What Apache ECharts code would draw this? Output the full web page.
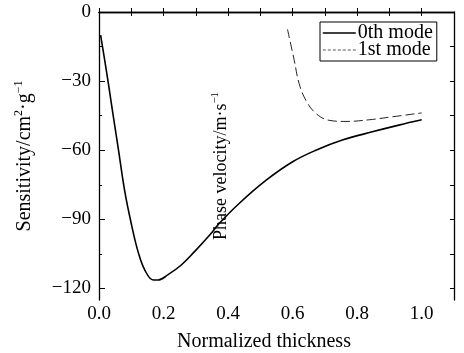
<!DOCTYPE html>
<html>
<head>
<meta charset="utf-8">
<script src="https://cdn.jsdelivr.net/npm/echarts@6/dist/echarts.min.js"></script>
<style>
  html, body { margin: 0; padding: 0; background: #fff; }
  #chart { width: 464px; height: 353px; }
</style>
</head>
<body>
<div id="chart"></div>
<script>
// values
const mode0X = [0.005, 0.016, 0.029, 0.044, 0.060, 0.080, 0.101, 0.121, 0.142, 0.168, 0.183, 0.214, 0.255, 0.296, 0.343, 0.373, 0.435, 0.518, 0.600, 0.672, 0.754, 0.847, 0.929, 1.000];
const mode0Y = [-10, -19.5, -31, -45, -59.5, -78, -92.5, -104, -112, -116.3, -116.3, -114, -109.8, -104, -96.8, -91.7, -83, -73, -65, -60, -55.6, -52, -49.1, -46.8];
const mode1X = [0.584, 0.605, 0.620, 0.641, 0.672, 0.713, 0.765, 0.836, 0.908, 1.000];
const mode1Y = [-7.5, -21, -31, -38.3, -44, -47, -47.5, -46.8, -45.5, -43.8];

const xLabels = [0, 0.2, 0.4, 0.6, 0.8, 1.0];
const xTicks = [0, 0.1, 0.2, 0.3, 0.4, 0.5, 0.6, 0.7, 0.8, 0.9, 1.0];
const yLabels = [0, -30, -60, -90, -120];
const yMinorTicks = [-15, -45, -75, -105];
const yRightTicks = [-15, -30, -45, -60, -75, -90, -105, -120];

const font = "'Liberation Serif', 'Times New Roman', serif";
const pairs = (xs, ys) => xs.map((x, i) => [x, ys[i]]);

const chart = echarts.init(document.getElementById('chart'));
chart.setOption({
    animation: false,
    backgroundColor: '#fff',
    textStyle: {fontFamily: font, color: '#000'},
    grid: {left: 99, right: 10, top: 12, bottom: 53, outerBoundsMode: 'none', containLabel: false},
    legend: {
        orient: 'vertical',
        left: 320,
        top: 22,
        width: 112,
        padding: [1, 4, 1, 2],
        itemGap: -3,
        itemWidth: 33,
        itemHeight: 14,
        borderColor: '#000',
        borderWidth: 1,
        borderRadius: 0,
        backgroundColor: '#fff',
        itemStyle: {color: 'transparent', borderWidth: 0, opacity: 0},
        textStyle: {fontFamily: font, fontSize: 20, color: '#000', padding: [0, 0, 0, -3]},
        data: [
            {name: '0th mode', lineStyle: {type: 'solid', width: 1.6, color: '#000'}},
            {name: '1st mode', lineStyle: {type: [3, 2], width: 1, color: '#555'}}
        ]
    },
    xAxis: [
        {
            type: 'value',
            min: 0,
            max: 1.1,
            name: 'Normalized thickness',
            nameLocation: 'middle',
            nameGap: 32,
            nameTextStyle: {fontFamily: font, fontSize: 20, color: '#000', padding: [0, 25, 0, 0]},
            splitLine: {show: false},
            axisLine: {lineStyle: {color: '#000', width: 1.3}},
            axisTick: {inside: true, length: 4, customValues: xTicks, lineStyle: {color: '#000'}},
            axisLabel: {
                customValues: xLabels,
                fontFamily: font, fontSize: 19, color: '#000', margin: 5,
                formatter: v => v.toFixed(1)
            }
        },
        {
            type: 'value',
            position: 'top',
            min: 0,
            max: 1.1,
            splitLine: {show: false},
            axisLine: {lineStyle: {color: '#000', width: 1.3}},
            axisTick: {inside: true, length: 4, customValues: xTicks, lineStyle: {color: '#000'}},
            axisLabel: {show: false}
        }
    ],
    yAxis: [
        {
            type: 'value',
            min: -125,
            max: 0,
            name: 'Sensitivity/cm{sup|2}·g{sup|−1}',
            nameLocation: 'middle',
            nameGap: 62,
            nameTextStyle: {
                fontFamily: font, fontSize: 20, color: '#000',
                rich: {sup: {fontFamily: font, fontSize: 12, color: '#000', padding: [0, 0, 12, 0]}}
            },
            splitLine: {show: false},
            axisLine: {lineStyle: {color: '#000', width: 1.3}},
            axisTick: {inside: true, length: 6, customValues: yLabels, lineStyle: {color: '#000'}},
            axisLabel: {
                customValues: yLabels,
                fontFamily: font, fontSize: 19, color: '#000', margin: 8,
                formatter: v => String(v).replace('-', '−')
            }
        },
        {
            type: 'value',
            min: -125,
            max: 0,
            position: 'left',
            splitLine: {show: false},
            axisLine: {show: false},
            axisTick: {inside: true, length: 3, customValues: yMinorTicks, lineStyle: {color: '#000'}},
            axisLabel: {show: false}
        },
        {
            type: 'value',
            min: -125,
            max: 0,
            position: 'right',
            splitLine: {show: false},
            axisLine: {show: true, lineStyle: {color: '#000', width: 1.3}},
            axisTick: {inside: true, length: 4, customValues: yRightTicks, lineStyle: {color: '#000'}},
            axisLabel: {show: false}
        }
    ],
    graphic: [
        {
            type: 'text',
            x: 221,
            y: 166,
            rotation: Math.PI / 2,
            style: {
                text: 'Phase velocity/m·s{sup|−1}',
                fontFamily: font,
                fontSize: 18,
                fill: '#000',
                align: 'center',
                verticalAlign: 'middle',
                rich: {sup: {fontFamily: font, fontSize: 11, fill: '#000', padding: [0, 0, 11, 0]}}
            },
            z: 10
        }
    ],
    series: [
        {
            name: '0th mode',
            type: 'line',
            data: pairs(mode0X, mode0Y),
            showSymbol: false,
            symbol: 'none',
            smooth: 0.4,
            itemStyle: {color: '#000'},
            lineStyle: {color: '#000', width: 1.6}
        },
        {
            name: '1st mode',
            type: 'line',
            data: pairs(mode1X, mode1Y),
            showSymbol: false,
            symbol: 'none',
            smooth: 0.4,
            itemStyle: {color: '#222'},
            lineStyle: {color: '#222', width: 1, type: [9, 4]}
        }
    ]
});
</script>
</body>
</html>
